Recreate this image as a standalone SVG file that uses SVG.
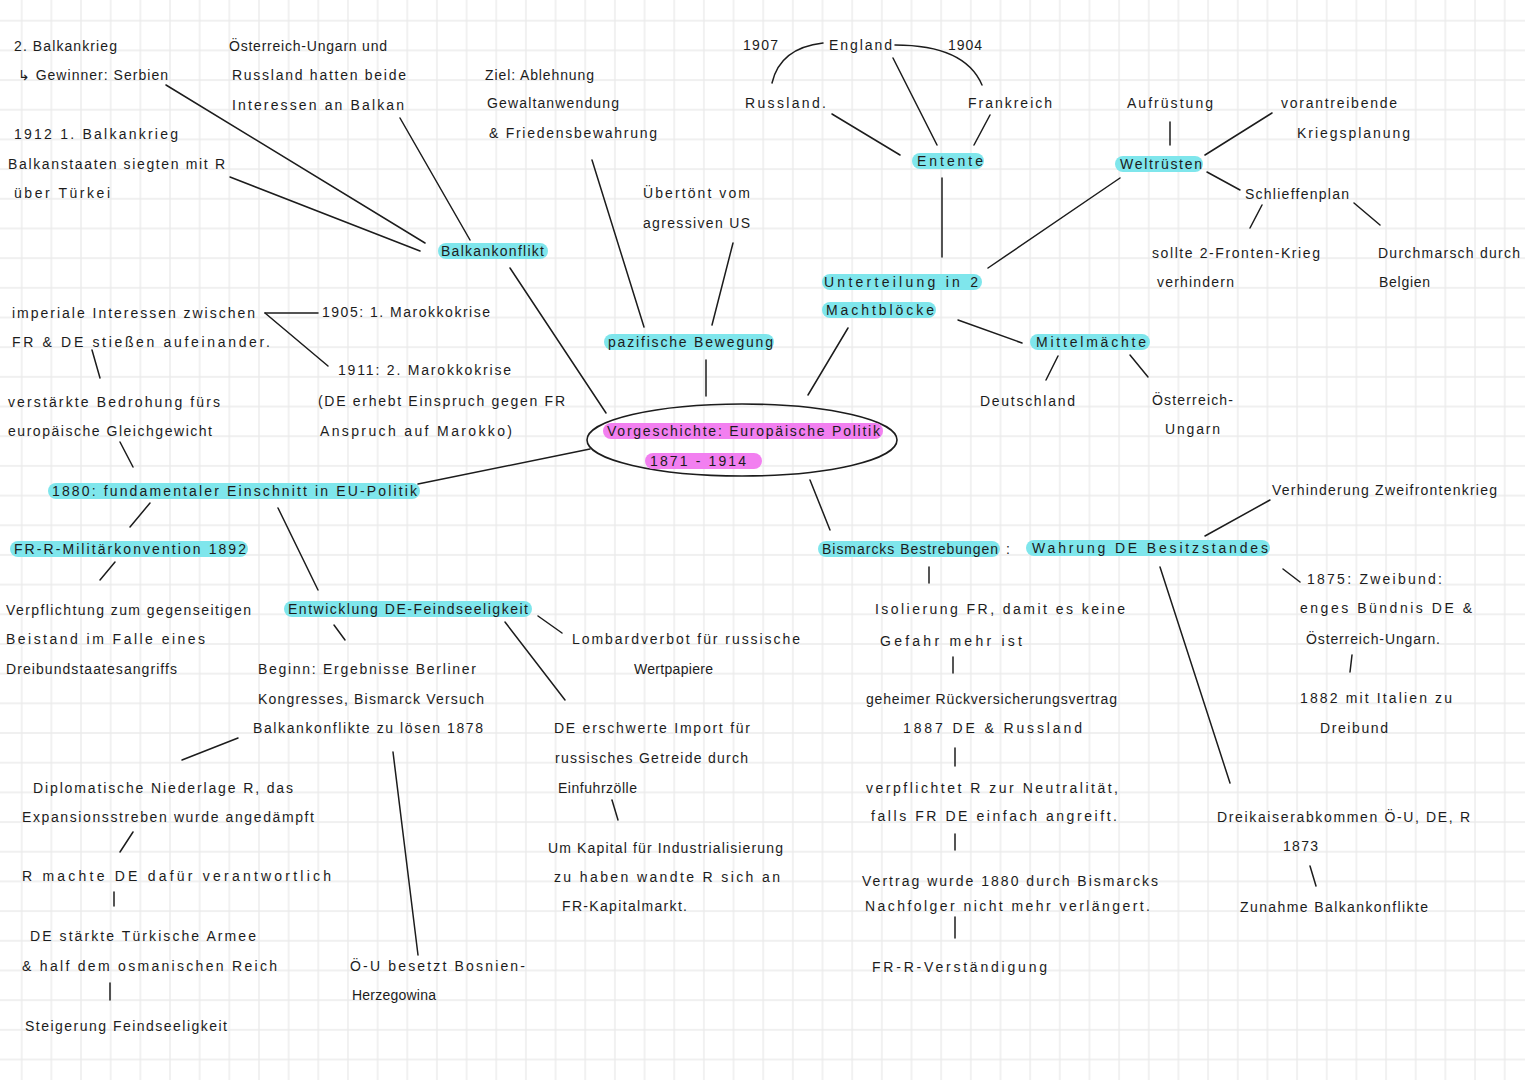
<svg xmlns="http://www.w3.org/2000/svg" width="1525" height="1080" viewBox="0 0 1525 1080">
<defs>
<pattern id="grid" x="6.87" y="5.86" width="29.66" height="29.68" patternUnits="userSpaceOnUse">
<path d="M14.83 0V29.68M0 14.84H29.66" fill="none" stroke="#ebebeb" stroke-width="1.4"/>
</pattern>
<style>
text{font-family:"Liberation Sans","DejaVu Sans",sans-serif;font-size:14px;fill:#1c1c1c;}
.hc{fill:#7fe6ec;}
.hm{fill:#f27ff0;}
.c line,.c path,.c ellipse{stroke:#1c1c1c;stroke-width:1.5;fill:none;stroke-linecap:round;}
</style>
</defs>
<rect width="1525" height="1080" fill="#ffffff"/>
<rect width="1525" height="1080" fill="url(#grid)"/>

<g id="connectors" class="c">
<line x1="166" y1="85" x2="425" y2="243"/>
<line x1="230" y1="177" x2="420" y2="251"/>
<line x1="400" y1="118" x2="470" y2="240"/>
<line x1="510" y1="268" x2="606" y2="413"/>
<line x1="592" y1="160" x2="644" y2="327"/>
<line x1="733" y1="243" x2="712" y2="325"/>
<line x1="706" y1="360" x2="706" y2="396"/>
<line x1="808" y1="395" x2="848" y2="328"/>
<line x1="942" y1="178" x2="942" y2="257"/>
<line x1="832" y1="114" x2="900" y2="155"/>
<line x1="893" y1="58" x2="937" y2="145"/>
<line x1="990" y1="115" x2="974" y2="145"/>
<path d="M772 83 Q780 48 823 43"/>
<path d="M895 45 Q965 45 982 85"/>
<line x1="988" y1="268" x2="1120" y2="178"/>
<line x1="1170" y1="122" x2="1170" y2="145"/>
<line x1="1272" y1="113" x2="1205" y2="155"/>
<line x1="1207" y1="172" x2="1240" y2="190"/>
<line x1="1262" y1="205" x2="1250" y2="228"/>
<line x1="1354" y1="203" x2="1380" y2="225"/>
<line x1="958" y1="320" x2="1022" y2="343"/>
<line x1="1058" y1="356" x2="1046" y2="380"/>
<line x1="1130" y1="355" x2="1148" y2="377"/>
<line x1="265" y1="313" x2="318" y2="313"/>
<line x1="265" y1="313" x2="328" y2="366"/>
<line x1="92" y1="350" x2="100" y2="378"/>
<line x1="120" y1="442" x2="133" y2="467"/>
<line x1="590" y1="449" x2="418" y2="484"/>
<line x1="150" y1="503" x2="130" y2="527"/>
<line x1="115" y1="562" x2="100" y2="580"/>
<line x1="278" y1="508" x2="318" y2="590"/>
<line x1="334" y1="625" x2="345" y2="640"/>
<line x1="538" y1="616" x2="562" y2="633"/>
<line x1="505" y1="622" x2="565" y2="700"/>
<line x1="238" y1="738" x2="182" y2="760"/>
<line x1="393" y1="752" x2="418" y2="955"/>
<line x1="133" y1="832" x2="120" y2="852"/>
<line x1="114" y1="892" x2="114" y2="906"/>
<line x1="110" y1="983" x2="110" y2="1000"/>
<line x1="612" y1="800" x2="618" y2="820"/>
<line x1="810" y1="480" x2="830" y2="530"/>
<line x1="929" y1="567" x2="929" y2="583"/>
<line x1="953" y1="657" x2="953" y2="673"/>
<line x1="955" y1="748" x2="955" y2="766"/>
<line x1="955" y1="834" x2="955" y2="850"/>
<line x1="955" y1="917" x2="955" y2="938"/>
<line x1="1205" y1="536" x2="1270" y2="500"/>
<line x1="1160" y1="567" x2="1230" y2="783"/>
<line x1="1283" y1="569" x2="1300" y2="582"/>
<line x1="1352" y1="655" x2="1350" y2="672"/>
<line x1="1310" y1="866" x2="1316" y2="886"/>
</g>

<g id="n-balkankrieg2"><text x="14" y="51" textLength="103">2. Balkankrieg</text><text x="18" y="80" textLength="150">↳ Gewinner: Serbien</text></g>
<g id="n-balkankrieg1"><text x="14" y="139" textLength="164">1912   1. Balkankrieg</text><text x="8" y="169" textLength="217">Balkanstaaten  siegten  mit  R</text><text x="14" y="198" textLength="96">über   Türkei</text></g>
<g id="n-interessen-balkan"><text x="229" y="51" textLength="158">Österreich-Ungarn  und</text><text x="232" y="80" textLength="174">Russland  hatten  beide</text><text x="232" y="110" textLength="172">Interessen  an  Balkan</text></g>
<g id="n-ziel"><text x="485" y="80" textLength="109">Ziel: Ablehnung</text><text x="487" y="108" textLength="132">Gewaltanwendung</text><text x="489" y="138" textLength="168">&amp; Friedensbewahrung</text></g>
<g id="n-balkankonflikt"><rect class="hc" x="438" y="243" width="110" height="16" rx="8"/><text x="441" y="256" textLength="103">Balkankonflikt</text></g>
<g id="n-uebertoent"><text x="643" y="198" textLength="107">Übertönt   vom</text><text x="643" y="228" textLength="107">agressiven  US</text></g>
<g id="n-pazifisch"><rect class="hc" x="604" y="334" width="170" height="16" rx="8"/><text x="608" y="347" textLength="165">pazifische   Bewegung</text></g>
<g id="n-england"><text x="829" y="50" textLength="63">England</text></g>
<g id="n-1907"><text x="743" y="50" textLength="35">1907</text></g>
<g id="n-1904"><text x="948" y="50" textLength="34">1904</text></g>
<g id="n-russland"><text x="745" y="108" textLength="81">Russland.</text></g>
<g id="n-frankreich"><text x="968" y="108" textLength="84">Frankreich</text></g>
<g id="n-entente"><rect class="hc" x="912" y="153" width="72" height="16" rx="8"/><text x="917" y="166" textLength="66">Entente</text></g>
<g id="n-aufruestung"><text x="1127" y="108" textLength="86">Aufrüstung</text></g>
<g id="n-vorantreibend"><text x="1281" y="108" textLength="116">vorantreibende</text><text x="1297" y="138" textLength="113">Kriegsplanung</text></g>
<g id="n-weltruesten"><rect class="hc" x="1115" y="156" width="88" height="16" rx="8"/><text x="1120" y="169" textLength="82">Weltrüsten</text></g>
<g id="n-schlieffen"><text x="1245" y="199" textLength="104">Schlieffenplan</text></g>
<g id="n-sollte"><text x="1152" y="258" textLength="168">sollte   2-Fronten-Krieg</text><text x="1157" y="287" textLength="77">verhindern</text></g>
<g id="n-durchmarsch"><text x="1378" y="258" textLength="142">Durchmarsch   durch</text><text x="1379" y="287" textLength="51">Belgien</text></g>
<g id="n-unterteilung"><rect class="hc" x="822" y="274" width="160" height="16" rx="8"/><text x="824" y="287" textLength="154">Unterteilung   in   2</text><rect class="hc" x="822" y="302" width="114" height="16" rx="8"/><text x="826" y="315" textLength="108">Machtblöcke</text></g>
<g id="n-mittelmaechte"><rect class="hc" x="1030" y="334" width="120" height="16" rx="8"/><text x="1036" y="347" textLength="110">Mittelmächte</text></g>
<g id="n-deutschland"><text x="980" y="406" textLength="95">Deutschland</text></g>
<g id="n-oesterreich-ungarn"><text x="1152" y="405" textLength="81">Österreich-</text><text x="1165" y="434" textLength="55">Ungarn</text></g>
<g id="n-imperiale"><text x="12" y="318" textLength="243">imperiale   Interessen   zwischen</text><text x="12" y="347" textLength="258">FR  &amp;  DE  stießen  aufeinander.</text></g>
<g id="n-marokko1"><text x="322" y="317" textLength="168">1905: 1. Marokkokrise</text></g>
<g id="n-marokko2"><text x="338" y="375" textLength="173">1911:  2. Marokkokrise</text><text x="318" y="406" textLength="247">(DE  erhebt  Einspruch  gegen  FR</text><text x="320" y="436" textLength="192">Anspruch   auf   Marokko)</text></g>
<g id="n-bedrohung"><text x="8" y="407" textLength="212">verstärkte  Bedrohung  fürs</text><text x="8" y="436" textLength="204">europäische  Gleichgewicht</text></g>
<g id="n-center"><ellipse class="c" cx="742" cy="440" rx="155" ry="36" fill="none" stroke="#1c1c1c" stroke-width="1.6"/><rect class="hm" x="603" y="423" width="280" height="16" rx="8"/><text x="607" y="436" textLength="273">Vorgeschichte:  Europäische  Politik</text><rect class="hm" x="645" y="453" width="117" height="16" rx="8"/><text x="650" y="466" textLength="96">1871 - 1914</text></g>
<g id="n-1880"><rect class="hc" x="48" y="483" width="372" height="16" rx="8"/><text x="52" y="496" textLength="365">1880: fundamentaler   Einschnitt   in   EU-Politik</text></g>
<g id="n-militaer"><rect class="hc" x="10" y="541" width="238" height="16" rx="8"/><text x="14" y="554" textLength="232">FR-R-Militärkonvention 1892</text></g>
<g id="n-verpflichtung"><text x="6" y="615" textLength="245">Verpflichtung  zum  gegenseitigen</text><text x="6" y="644" textLength="199">Beistand  im  Falle  eines</text><text x="6" y="674" textLength="171">Dreibundstaatesangriffs</text></g>
<g id="n-entwicklung"><rect class="hc" x="284" y="601" width="248" height="16" rx="8"/><text x="288" y="614" textLength="240">Entwicklung   DE-Feindseeligkeit</text></g>
<g id="n-beginn"><text x="258" y="674" textLength="218">Beginn:  Ergebnisse  Berliner</text><text x="258" y="704" textLength="226">Kongresses,  Bismarck  Versuch</text><text x="253" y="733" textLength="230">Balkankonflikte  zu  lösen  1878</text></g>
<g id="n-diplomatisch"><text x="33" y="793" textLength="260">Diplomatische  Niederlage  R,  das</text><text x="22" y="822" textLength="292">Expansionsstreben  wurde  angedämpft</text></g>
<g id="n-rmachte"><text x="22" y="881" textLength="309">R   machte   DE   dafür   verantwortlich</text></g>
<g id="n-destaerkte"><text x="30" y="941" textLength="226">DE  stärkte  Türkische  Armee</text><text x="22" y="971" textLength="255">&amp;  half  dem  osmanischen  Reich</text></g>
<g id="n-steigerung"><text x="25" y="1031" textLength="202">Steigerung   Feindseeligkeit</text></g>
<g id="n-oeu"><text x="350" y="971" textLength="175">Ö-U   besetzt   Bosnien-</text><text x="352" y="1000" textLength="84">Herzegowina</text></g>
<g id="n-lombard"><text x="572" y="644" textLength="228">Lombardverbot   für   russische</text><text x="634" y="674" textLength="79">Wertpapiere</text></g>
<g id="n-import"><text x="554" y="733" textLength="196">DE  erschwerte  Import  für</text><text x="555" y="763" textLength="193">russisches  Getreide  durch</text><text x="558" y="793" textLength="79">Einfuhrzölle</text></g>
<g id="n-kapital"><text x="548" y="853" textLength="235">Um  Kapital  für  Industrialisierung</text><text x="554" y="882" textLength="226">zu  haben  wandte  R  sich  an</text><text x="562" y="911" textLength="125">FR-Kapitalmarkt.</text></g>
<g id="n-bismarck"><rect class="hc" x="818" y="541" width="182" height="16" rx="8"/><text x="822" y="554" textLength="176">Bismarcks   Bestrebungen</text><text x="1006" y="554">:</text></g>
<g id="n-wahrung"><rect class="hc" x="1026" y="540" width="244" height="16" rx="8"/><text x="1032" y="553" textLength="236">Wahrung   DE   Besitzstandes</text></g>
<g id="n-verhinderung"><text x="1272" y="495" textLength="225">Verhinderung   Zweifrontenkrieg</text></g>
<g id="n-zweibund"><text x="1307" y="584" textLength="135">1875: Zweibund:</text><text x="1300" y="613" textLength="172">enges  Bündnis  DE  &amp;</text><text x="1306" y="644" textLength="134">Österreich-Ungarn.</text></g>
<g id="n-dreibund"><text x="1300" y="703" textLength="152">1882   mit   Italien   zu</text><text x="1320" y="733" textLength="68">Dreibund</text></g>
<g id="n-isolierung"><text x="875" y="614" textLength="250">Isolierung  FR,  damit  es  keine</text><text x="880" y="646" textLength="142">Gefahr   mehr   ist</text></g>
<g id="n-rueckvers"><text x="866" y="704" textLength="251">geheimer  Rückversicherungsvertrag</text><text x="903" y="733" textLength="179">1887   DE   &amp;   Russland</text></g>
<g id="n-neutral"><text x="866" y="793" textLength="252">verpflichtet  R  zur  Neutralität,</text><text x="871" y="821" textLength="246">falls  FR  DE  einfach  angreift.</text></g>
<g id="n-vertrag"><text x="862" y="886" textLength="296">Vertrag  wurde  1880  durch  Bismarcks</text><text x="865" y="911" textLength="285">Nachfolger  nicht  mehr  verlängert.</text></g>
<g id="n-fr-r"><text x="872" y="972" textLength="175">FR-R-Verständigung</text></g>
<g id="n-dreikaiser"><text x="1217" y="822" textLength="253">Dreikaiserabkommen  Ö-U,  DE,  R</text><text x="1283" y="851" textLength="35">1873</text></g>
<g id="n-zunahme"><text x="1240" y="912" textLength="188">Zunahme   Balkankonflikte</text></g>
</svg>
